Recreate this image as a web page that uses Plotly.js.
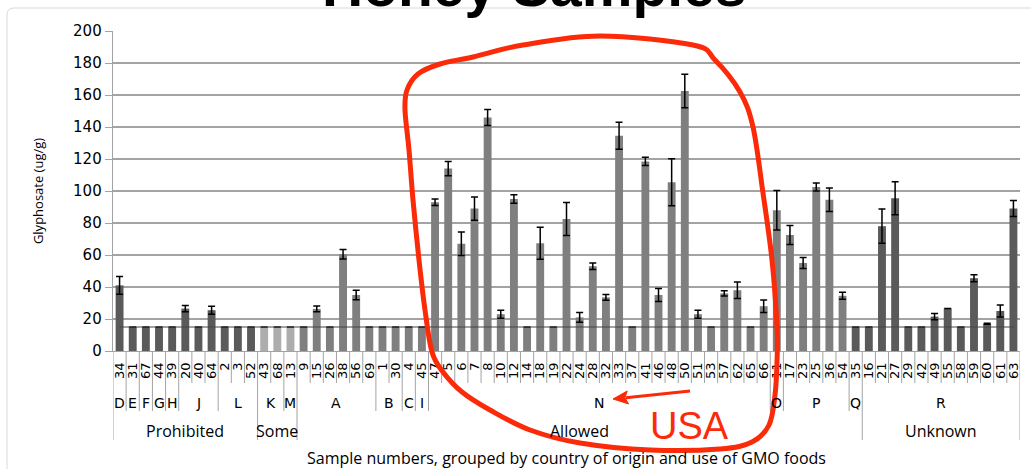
<!DOCTYPE html>
<html>
<head>
<meta charset="utf-8">
<script src="https://cdn.plot.ly/plotly-3.0.1.min.js"></script>
<style>
html,body{margin:0;padding:0;background:#fff;}
#chart{width:1031px;height:469px;}
</style>
</head>
<body>
<div id="chart"></div>
<script>
// ---------------- DATA ----------------
const samples = ['34','31','67','44','39','20','40','64','2','3','52','43','68','13','9','15','26','38','56','69','1','30','4','45','47','5','6','7','8','10','12','14','18','19','22','24','28','32','33','37','41','46','48','50','51','53','57','62','65','66','11','17','23','25','36','54','35','16','21','27','29','42','49','55','58','59','60','61','63'];
const glyphosate = [41,15,15,15,15,26.5,15,25.5,15,15,
  15,15,15,15,15,26.3,15,60.5,35,15,
  15,15,15,15,93,114,67,89,146,23,
  95,15,67.4,15,82.5,21,53,33.5,134.5,15,
  118.5,35,105.5,162.5,23,15,36,38,15,28,
  88,72.5,55,102.5,94.5,34.5,15,15,78,95.5,
  15,15,21.5,26.5,15,45.5,17,25,89];
const errorBars = [5.5,0,0,0,0,2,0,2.5,0,0,
  0,0,0,0,0,1.8,0,3,3,0,
  0,0,0,0,2,4.4,7.3,7.3,5,2.5,
  2.6,0,10,0,10.3,3,2,1.8,8.4,0,
  2.6,4,14.7,10.4,2.5,0,1.7,5.2,0,3.9,
  12.3,6,3.5,2.5,7.3,2.2,0,0,10.7,10.3,
  0,0,1.9,0,0,2.2,0.3,3.7,5];
const countryGroups = ['D','E','F','G','H','J','L','K','M','A','B','C','I','N','O','P','Q','R'];
const countryCounts = [1,1,1,1,1,3,3,2,1,6,2,1,1,26,1,5,1,12];
const useGroups = ['Prohibited','Some','Allowed','Unknown'];
const useCounts = [11,3,43,12];
const detectionLine = 15;
const yTicks = [0,20,40,60,80,100,120,140,160,180,200];

// ---------------- STYLE ----------------
const DARK = '#5a5a5a', MID = '#7f7f7f', LIGHT = '#adadad';
const shadeByCountry = {D:DARK,E:DARK,F:DARK,G:DARK,H:DARK,J:DARK,L:DARK,K:LIGHT,M:LIGHT,
  A:MID,B:MID,C:MID,I:MID,N:MID,O:MID,P:MID,Q:DARK,R:DARK};
const RED = '#fb2a08';
const SEP = '#a3a3a3';
const W = 1031, H = 469;
const box = {l:113, r:1020, t:31, b:351};
function px(x){ return (x - box.l) / (box.r - box.l); }
function py(y){ return (box.b - y) / (box.b - box.t); }

// bar colours from country groups
const barColors = [];
countryGroups.forEach((g,i)=>{ for(let k=0;k<countryCounts[i];k++) barColors.push(shadeByCountry[g]); });

const shapes = [];
const annotations = [];

// separators under the axis
const countryBounds = new Set([0]); let c = 0;
countryCounts.forEach(n=>{ c += n; countryBounds.add(c); });
const useBounds = new Set([0]); let u = 0;
useCounts.forEach(n=>{ u += n; useBounds.add(u); });
for(let k=0;k<=samples.length;k++){
  let yEnd = 383;
  if(countryBounds.has(k)) yEnd = 411;
  if(useBounds.has(k)) yEnd = 440;
  shapes.push({type:'line', xref:'x', yref:'paper', x0:k-0.5, x1:k-0.5, y0:0, y1:py(yEnd),
    line:{color:SEP, width:1}, layer:'below'});
}
// country labels
let start = 0;
countryGroups.forEach((g,i)=>{
  const mid = start + (countryCounts[i]-1)/2;
  annotations.push({xref:'x', yref:'paper', x:mid, y:py(403), text:g, showarrow:false,
    xanchor:'center', yanchor:'middle', font:{family:'DejaVu Sans', size:14, color:'#000'}});
  start += countryCounts[i];
});
// use labels
start = 0;
useGroups.forEach((g,i)=>{
  const mid = start + (useCounts[i]-1)/2;
  annotations.push({xref:'x', yref:'paper', x:mid, y:py(431), text:g, showarrow:false,
    xanchor:'center', yanchor:'middle', font:{family:'Open Sans', size:16, color:'#000'}});
  start += useCounts[i];
});

// detection line across all samples
shapes.push({type:'line', xref:'x', yref:'y', x0:0, x1:samples.length-1, y0:detectionLine, y1:detectionLine,
  line:{color:'#444', width:1}, layer:'above'});

// outer slide frame
shapes.push({type:'path', xref:'paper', yref:'paper', layer:'below',
  path:`M ${px(7)},${py(480)} L ${px(7)},${py(15)} Q ${px(7)},${py(8)} ${px(14)},${py(8)} L ${px(1040)},${py(8)}`,
  line:{color:'#d9d9d9', width:1}, fillcolor:'rgba(0,0,0,0)'});

// hand-drawn red loop
const loopPts = [[405,110],[407,90],[418,74],[440,64],[473,57],[523,45],[600,36],[693,45],[715,60],[740,92],[753,127],
  [763,193],[772,260],[777,327],[777,362],[775,395],[769,425],[752,442],[720,449],[650,450],[580,443],[530,430],
  [490,410],[462,392],[443,372],[432,352],[425,310],[419,260],[413,200],[409,150]];
function smoothClosed(pts){
  const n = pts.length, P = pts.map(p=>[px(p[0]), py(p[1])]);
  let d = `M ${P[0][0]},${P[0][1]}`;
  for(let i=0;i<n;i++){
    const p0=P[(i-1+n)%n], p1=P[i], p2=P[(i+1)%n], p3=P[(i+2)%n];
    const c1=[p1[0]+(p2[0]-p0[0])/6, p1[1]+(p2[1]-p0[1])/6];
    const c2=[p2[0]-(p3[0]-p1[0])/6, p2[1]-(p3[1]-p1[1])/6];
    d += ` C ${c1[0]},${c1[1]} ${c2[0]},${c2[1]} ${p2[0]},${p2[1]}`;
  }
  return d + ' Z';
}
shapes.push({type:'path', xref:'paper', yref:'paper', layer:'above', path:smoothClosed(loopPts),
  line:{color:RED, width:5}, fillcolor:'rgba(0,0,0,0)'});

// red arrow pointing at N
const tail=[690,391], tip=[613,399];
const dx=tip[0]-tail[0], dy=tip[1]-tail[1], len=Math.hypot(dx,dy), ux=dx/len, uy=dy/len;
const hl=15, hw=6.5;
const bx=tip[0]-ux*hl, by=tip[1]-uy*hl;
shapes.push({type:'line', xref:'paper', yref:'paper', layer:'above',
  x0:px(tail[0]), y0:py(tail[1]), x1:px(bx+ux*2), y1:py(by+uy*2), line:{color:RED, width:3}});
shapes.push({type:'path', xref:'paper', yref:'paper', layer:'above',
  path:`M ${px(tip[0])},${py(tip[1])} L ${px(bx-uy*hw)},${py(by+ux*hw)} L ${px(bx+ux*3)},${py(by+uy*3)} L ${px(bx+uy*hw)},${py(by-ux*hw)} Z`,
  line:{color:RED, width:1}, fillcolor:RED});

annotations.push({xref:'paper', yref:'paper', x:px(689), y:py(426), text:'USA', showarrow:false, borderpad:0,
  xanchor:'center', yanchor:'middle', font:{family:'Liberation Sans Narrow, Arial Narrow, Liberation Sans', size:38, color:RED}});

// cropped slide title
annotations.push({xref:'paper', yref:'paper', x:px(534), y:py(-13.5), text:'<b>Honey Samples</b>', showarrow:false,
  xanchor:'center', yanchor:'middle', font:{family:'Liberation Sans, Arial', size:57, color:'#000'}});

const trace = {
  type:'bar', x:samples, y:glyphosate,
  marker:{color:barColors, line:{width:0}},
  error_y:{type:'data', array:errorBars, visible:true, color:'#000', thickness:1.5, width:3.5},
  hoverinfo:'skip'
};

const layout = {
  width:W, height:H,
  margin:{l:box.l, r:W-box.r, t:box.t, b:H-box.b, pad:0},
  paper_bgcolor:'#fff', plot_bgcolor:'#fff',
  showlegend:false, bargap:0.4, hovermode:false,
  font:{family:'DejaVu Sans', color:'#000'},
  xaxis:{type:'category', categoryorder:'array', categoryarray:samples,
    tickmode:'array', tickvals:samples, ticktext:samples, tickangle:-90,
    tickfont:{family:'DejaVu Sans', size:13, color:'#000'}, ticks:'', ticklabelstandoff:5,
    showline:true, linecolor:SEP, linewidth:1.3, showgrid:false, zeroline:false,
    range:[-0.5, samples.length-0.5], automargin:false,
    title:{text:'Sample numbers, grouped by country of origin and use of GMO foods',
      font:{family:'Open Sans', size:16, color:'#000'}, standoff:76}},
  yaxis:{range:[0,200], tickmode:'array', tickvals:yTicks, ticks:'outside', ticklen:7, tickcolor:SEP,
    showline:true, linecolor:SEP, linewidth:1.3, showgrid:true, gridcolor:SEP, gridwidth:1.3, zeroline:false,
    tickfont:{family:'DejaVu Sans', size:15, color:'#000'}, automargin:false,
    title:{text:'Glyphosate (ug/g)', font:{family:'Open Sans', size:13, color:'#000'}, standoff:26}},
  shapes:shapes, annotations:annotations
};

Plotly.newPlot('chart', [trace], layout, {staticPlot:true, displayModeBar:false});
</script>
</body>
</html>
